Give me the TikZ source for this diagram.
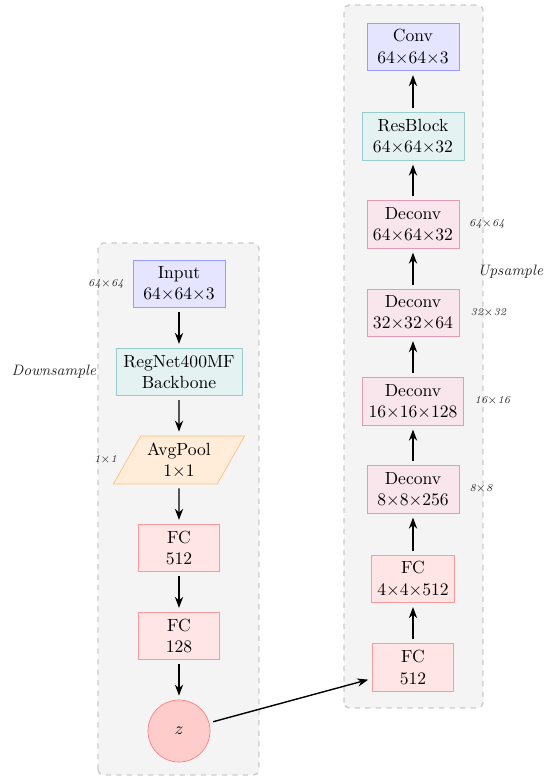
\documentclass[tikz,border=0pt]{standalone}
\usepackage{amsmath,amssymb}
\usepackage{xcolor}
\usepackage{tikz}
\usetikzlibrary{shapes.geometric, arrows.meta, positioning, backgrounds}
\definecolor{panelgray}{RGB}{244, 244, 244}
\definecolor{labelgray}{RGB}{40, 40, 40}

\begin{document}
\begin{tikzpicture}[
    block/.style={rectangle, draw=#1!40, fill=#1!10, minimum width=1.84cm,
                  minimum height=0.95cm, align=center},
    panel/.style={draw=gray!40, fill=panelgray, thick, dashed, rounded corners=3pt},
    flow/.style={-{Stealth[length=2.2mm]}, thick, shorten <=2.3pt, shorten >=2.3pt},
    dimlabel/.style={font=\fontsize{6}{7}\selectfont\itshape, text=labelgray},
    stagelabel/.style={font=\fontsize{8.6}{10}\selectfont\itshape, text=labelgray}
]
    \useasboundingbox (0,0) rectangle (10.98,15.58);

    % Panels
    \draw[panel] (1.96,0.08) rectangle (5.18,10.72);
    \draw[panel] (6.88,1.42) rectangle (9.66,15.48);

    % Encoder
    \node[block=blue] (input) at (3.58,9.90) {Input\\64$\times$64$\times$3};
    \node[block=teal, minimum width=2.52cm] (backbone) at (3.58,8.14) {RegNet400MF\\Backbone};
    \node[trapezium, trapezium left angle=60, trapezium right angle=120, trapezium stretches,
          draw=orange!50, fill=orange!15, minimum width=2.64cm, minimum height=0.96cm,
          align=center] (pool) at (3.58,6.38) {AvgPool\\1$\times$1};
    \node[block=red, minimum width=1.62cm] (fca) at (3.58,4.62) {FC\\512};
    \node[block=red, minimum width=1.62cm] (fcb) at (3.58,2.86) {FC\\128};
    \node[circle, draw=red!50, fill=red!20, minimum size=1.24cm] (z) at (3.58,0.96) {$z$};

    % Decoder
    \node[block=red, minimum width=1.62cm] (dfc) at (8.26,2.23) {FC\\512};
    \node[block=red, minimum width=1.62cm] (dfcr) at (8.26,4.00) {FC\\4$\times$4$\times$512};
    \node[block=purple] (dc8) at (8.26,5.79) {Deconv\\8$\times$8$\times$256};
    \node[block=purple] (dc16) at (8.26,7.55) {Deconv\\16$\times$16$\times$128};
    \node[block=purple] (dc32) at (8.26,9.32) {Deconv\\32$\times$32$\times$64};
    \node[block=purple] (dc64) at (8.26,11.09) {Deconv\\64$\times$64$\times$32};
    \node[block=teal, minimum width=2.04cm] (res) at (8.26,12.85) {ResBlock\\64$\times$64$\times$32};
    \node[block=blue] (conv) at (8.26,14.64) {Conv\\64$\times$64$\times$3};

    % Arrows
    \foreach \a/\b in {input/backbone, backbone/pool, pool/fca, fca/fcb, fcb/z, z/dfc,
                       dfc/dfcr, dfcr/dc8, dc8/dc16, dc16/dc32, dc32/dc64, dc64/res, res/conv}
        \draw[flow] (\a) -- (\b);

    % Labels
    \node[stagelabel] (downlbl) at (1.08,8.14) {Downsample};
    \node[stagelabel] (uplbl) at (10.21,10.15) {Upsample};
    \node[dimlabel] (dim64) at (2.12,9.90) {64$\times$64};
    \node[dimlabel] (dim1) at (2.11,6.38) {1$\times$1};
    \node[dimlabel] (up64) at (9.74,11.10) {64$\times$64};
    \node[dimlabel] (up32) at (9.77,9.32) {32$\times$32};
    \node[dimlabel] (up16) at (9.85,7.56) {16$\times$16};
    \node[dimlabel] (up8) at (9.62,5.80) {8$\times$8};
\end{tikzpicture}
\end{document}
